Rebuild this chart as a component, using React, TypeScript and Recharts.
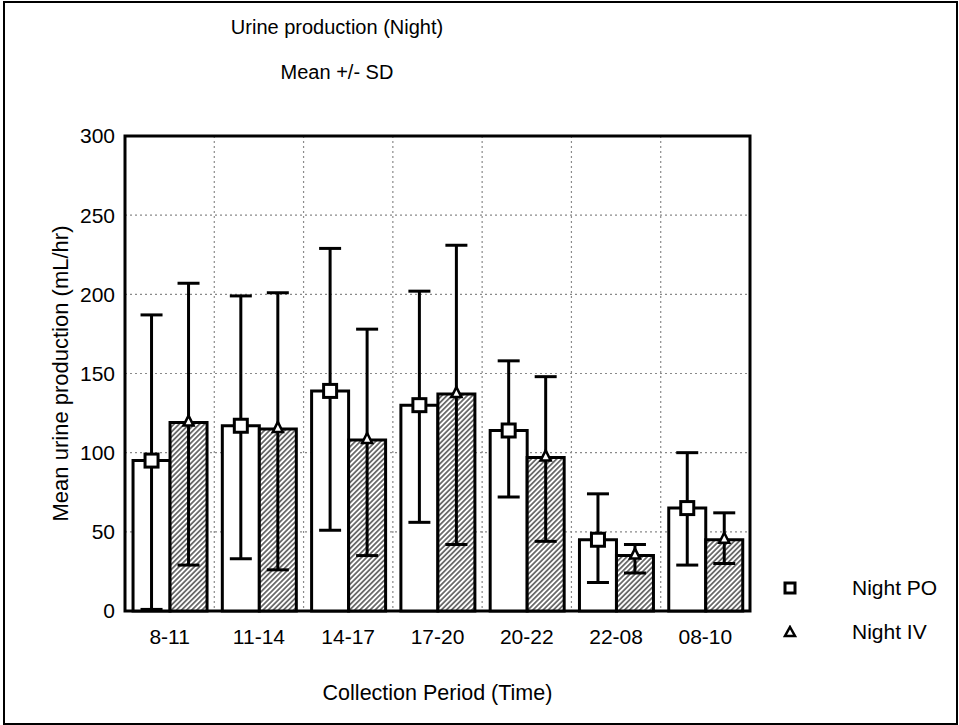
import React from 'react';
import { BarChart, Bar, XAxis, YAxis, CartesianGrid, ErrorBar, Legend, ReferenceArea } from 'recharts';

const categories = ['8-11', '11-14', '14-17', '17-20', '20-22', '22-08', '08-10'];
const poMean = [95, 117, 139, 130, 114, 45, 65];
const poLow = [1, 33, 51, 56, 72, 18, 29];
const poHigh = [187, 199, 229, 202, 158, 74, 100];
const ivMean = [119, 115, 108, 137, 97, 35, 45];
const ivLow = [29, 26, 35, 42, 44, 24, 30];
const ivHigh = [207, 201, 178, 231, 148, 42, 62];
const yTicks = [0, 50, 100, 150, 200, 250, 300];

const data = categories.map((c, i) => ({
  period: c,
  po: poMean[i],
  poErr: [poMean[i] - poLow[i], poHigh[i] - poMean[i]],
  iv: ivMean[i],
  ivErr: [ivMean[i] - ivLow[i], ivHigh[i] - ivMean[i]],
}));

const FONT = '"Liberation Sans", Arial, Helvetica, sans-serif';
const FS = 21;
const MARGIN = { top: 136, right: 209, bottom: 0, left: 40 };

function getBox(p: any) {
  const vb = p.viewBox || p;
  return { x: Number(vb.x), y: Number(vb.y), width: Number(vb.width), height: Number(vb.height) };
}

function SquareMark(p: any) {
  const b = getBox(p);
  const cx = b.x + b.width / 2;
  const cy = b.y;
  return <rect x={cx - 6.5} y={cy - 6.5} width={13} height={13} fill="#fff" stroke="#000" strokeWidth={3} />;
}

function TriMark(p: any) {
  const b = getBox(p);
  const cx = b.x + b.width / 2;
  const cy = b.y;
  return (
    <path d={`M${cx} ${cy - 7} L${cx + 5} ${cy + 3} L${cx - 5} ${cy + 3} Z`} fill="#fff" stroke="#000" strokeWidth={2.5} />
  );
}

function YLabel(p: any) {
  const vb = p.viewBox || {};
  const cx = vb.x + 20;
  const cy = vb.y + vb.height / 2;
  return (
    <text x={cx} y={cy} transform={`rotate(-90 ${cx} ${cy})`} textAnchor="middle" dominantBaseline="central" fontFamily={FONT} fontSize={22} fill="#000">
      Mean urine production (mL/hr)
    </text>
  );
}

function XLabel(p: any) {
  const vb = p.viewBox || {};
  const cx = vb.x + vb.width / 2;
  return (
    <text x={cx} y={vb.y + 89} textAnchor="middle" fontFamily={FONT} fontSize={21.5} fill="#000">
      Collection Period (Time)
    </text>
  );
}

function LegendContent() {
  const row = { display: 'flex', alignItems: 'center', height: 44 } as React.CSSProperties;
  return (
    <div style={{ fontFamily: FONT, fontSize: FS, color: '#000', width: 200 }}>
      <div style={row}>
        <svg width={14} height={14} style={{ marginLeft: 8 }}>
          <rect x={2} y={2} width={10} height={10} fill="#fff" stroke="#000" strokeWidth={3} />
        </svg>
        <span style={{ marginLeft: 55 }}>Night PO</span>
      </div>
      <div style={row}>
        <svg width={14} height={14} style={{ marginLeft: 8 }}>
          <path d="M7 2 L12 11 L2 11 Z" fill="#fff" stroke="#000" strokeWidth={2.5} />
        </svg>
        <span style={{ marginLeft: 55 }}>Night IV</span>
      </div>
    </div>
  );
}

const verticalGen = (props: any) => {
  const xAxis = props && props.xAxis;
  const s = xAxis && xAxis.scale;
  if (s && typeof s === 'function') {
    const v = categories.slice(1).map((c) => Number(s(c)));
    if (v.every((n) => Number.isFinite(n))) return v;
  }
  const o = props.offset;
  return categories.slice(1).map((_, i) => o.left + ((i + 1) * o.width) / categories.length);
};

const chartStyle = { position: 'absolute', left: 0, top: 0 } as React.CSSProperties;

function BaseChart() {
  return (
    <BarChart width={959} height={725} data={data} margin={MARGIN} barCategoryGap="9%" barGap={0} style={chartStyle}>
      <defs>
        <pattern id="hatch" width="3.6" height="3.6" patternUnits="userSpaceOnUse" patternTransform="rotate(45)">
          <rect width="3.6" height="3.6" fill="#fff" />
          <line x1="1.8" y1="0" x2="1.8" y2="3.6" stroke="#000" strokeWidth="1.05" />
        </pattern>
      </defs>
      <CartesianGrid xAxisId="cat" stroke="#8a8a8a" strokeDasharray="2 3" strokeWidth={1.2} verticalCoordinatesGenerator={verticalGen} />
      <XAxis
        xAxisId="cat"
        dataKey="period"
        type="category"
        height={114}
        axisLine={false}
        tickLine={false}
        tickSize={0}
        tickMargin={18}
        tick={{ fontFamily: FONT, fontSize: FS, fill: '#000' }}
        interval={0}
        label={<XLabel />}
      />
      <YAxis
        domain={[0, 300]}
        ticks={yTicks}
        width={85}
        axisLine={false}
        tickLine={false}
        tickSize={0}
        tickMargin={10}
        tick={{ fontFamily: FONT, fontSize: FS, fill: '#000' }}
        label={<YLabel />}
      />
      <ReferenceArea xAxisId="cat" y1={0} y2={300} fill="none" fillOpacity={0} stroke="#000" strokeWidth={3} ifOverflow="visible" />
      <Bar xAxisId="cat" dataKey="po" name="Night PO" fill="#fff" stroke="#000" strokeWidth={3} isAnimationActive={false} />
      <Bar xAxisId="cat" dataKey="iv" name="Night IV" fill="url(#hatch)" stroke="#000" strokeWidth={3} isAnimationActive={false} />
      <Legend content={<LegendContent />} wrapperStyle={{ position: 'absolute', left: 775, top: 566, width: 0, height: 0, overflow: 'visible' }} />
    </BarChart>
  );
}

function OverlayChart() {
  return (
    <BarChart width={959} height={725} data={data} margin={MARGIN} barCategoryGap="9%" barGap={0} style={{ ...chartStyle, pointerEvents: 'none' }}>
      <XAxis xAxisId="cat" dataKey="period" type="category" height={114} axisLine={false} tickLine={false} tick={false} interval={0} />
      <YAxis domain={[0, 300]} ticks={yTicks} width={85} axisLine={false} tickLine={false} tick={false} />
      <Bar xAxisId="cat" dataKey="po" fill="none" stroke="none" isAnimationActive={false} label={SquareMark}>
        <ErrorBar dataKey="poErr" width={11} stroke="#000" strokeWidth={3} direction="y" />
      </Bar>
      <Bar xAxisId="cat" dataKey="iv" fill="none" stroke="none" isAnimationActive={false} label={TriMark}>
        <ErrorBar dataKey="ivErr" width={11} stroke="#000" strokeWidth={3} direction="y" />
      </Bar>
    </BarChart>
  );
}

export default function App() {
  return (
    <div style={{ position: 'absolute', left: 0, top: 0, width: 959, height: 725, background: '#fff', fontFamily: FONT }}>
      <div style={{ position: 'absolute', left: 3, top: 1, width: 951, height: 720, border: '2px solid #000' }} />
      <div style={{ position: 'absolute', left: 137, width: 400, top: 14, textAlign: 'center', fontSize: 20, lineHeight: '26px' }}>
        Urine production (Night)
      </div>
      <div style={{ position: 'absolute', left: 137, width: 400, top: 59, textAlign: 'center', fontSize: 20, lineHeight: '26px' }}>
        Mean +/- SD
      </div>
      <BaseChart />
      <OverlayChart />
    </div>
  );
}
